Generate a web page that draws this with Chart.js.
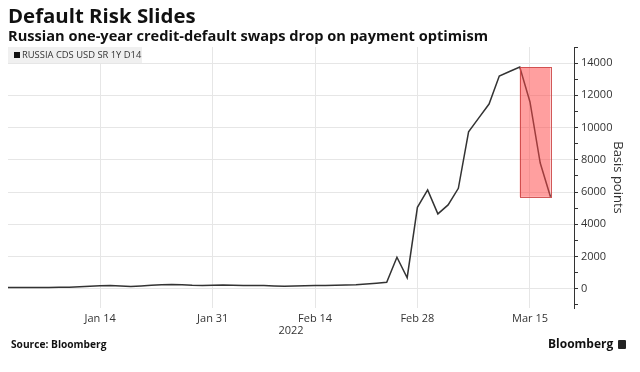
<!DOCTYPE html>
<html>
<head>
<meta charset="utf-8">
<script src="https://cdn.jsdelivr.net/npm/chart.js@4.4.1/dist/chart.umd.min.js"></script>
<style>
  html, body { margin: 0; padding: 0; background: #fff; }
  #wrap { position: relative; width: 640px; height: 372px; overflow: hidden; font-family: "Open Sans", "Noto Sans", sans-serif; }
  #c { position: absolute; left: 0; top: 0; }
  .title { position: absolute; left: 8px; top: 1px; font-size: 20.4px; font-weight: 700; color: #111; white-space: nowrap; }
  .sub { position: absolute; left: 8px; top: 25px; font-size: 14.6px; font-weight: 700; color: #111; white-space: nowrap; }
  .legend { position: absolute; left: 8px; top: 47px; width: 134px; height: 16px; background: #f0f0f0; font-size: 9.4px; color: #333; line-height: 16px; white-space: nowrap; }
  .legend .sq { display: inline-block; width: 6px; height: 6px; background: #111; margin: 0 2px 0 6px; vertical-align: 0px; }
  .source { position: absolute; left: 11px; top: 337px; font-size: 10.2px; font-weight: 700; color: #111; white-space: nowrap; }
  .logo { position: absolute; left: 548px; top: 335px; font-size: 12px; font-weight: 700; color: #111; white-space: nowrap; }
  .logo .ic { display: inline-block; width: 8px; height: 9px; background: #222; border-radius: 1px; margin-left: 5px; vertical-align: -1px; }
</style>
</head>
<body>
<div id="wrap">
  <canvas id="c" width="640" height="372"></canvas>
  <div class="title">Default Risk Slides</div>
  <div class="sub">Russian one-year credit-default swaps drop on payment optimism</div>
  <div class="legend"><span class="sq"></span>RUSSIA CDS USD SR 1Y D14</div>
  <div class="source">Source: Bloomberg</div>
  <div class="logo">Bloomberg<span class="ic"></span></div>
</div>
<script>
// Business days, Jan 3 – Mar 17, 2022
const dates = [
  'Jan 3','Jan 4','Jan 5','Jan 6','Jan 7',
  'Jan 10','Jan 11','Jan 12','Jan 13','Jan 14',
  'Jan 17','Jan 18','Jan 19','Jan 20','Jan 21',
  'Jan 24','Jan 25','Jan 26','Jan 27','Jan 28',
  'Jan 31','Feb 1','Feb 2','Feb 3','Feb 4',
  'Feb 7','Feb 8','Feb 9','Feb 10','Feb 11',
  'Feb 14','Feb 15','Feb 16','Feb 17','Feb 18',
  'Feb 21','Feb 22','Feb 23','Feb 24','Feb 25',
  'Feb 28','Mar 1','Mar 2','Mar 3','Mar 4',
  'Mar 7','Mar 8','Mar 9','Mar 10','Mar 11',
  'Mar 14','Mar 15','Mar 16','Mar 17'
];
const cdsValues = [
  80, 80, 80, 80, 80,
  85, 90, 120, 150, 180,
  190, 170, 140, 170, 210,
  250, 260, 240, 210, 200,
  210, 220, 210, 200, 200,
  190, 170, 150, 170, 180,
  190, 200, 210, 230, 240,
  290, 340, 400, 1950, 680,
  5050, 6130, 4640, 5200, 6230,
  9730, 10600, 11460, 13200, 13480,
  13750, 11590, 7800, 5700
];
const tickDates = ['Jan 14', 'Jan 31', 'Feb 14', 'Feb 28', 'Mar 15'];
const yTickValues = [0, 2000, 4000, 6000, 8000, 10000, 12000, 14000];
const highlightStart = 'Mar 14';
const highlightEnd = 'Mar 17';
const seriesName = 'RUSSIA CDS USD SR 1Y D14';

const points = cdsValues.map((v, i) => ({ x: i, y: v }));

const highlightPlugin = {
  id: 'highlightBox',
  afterDatasetsDraw(chart) {
    const xs = chart.scales.x, ys = chart.scales.y;
    const i0 = dates.indexOf(highlightStart), i1 = dates.indexOf(highlightEnd);
    const seg = cdsValues.slice(i0, i1 + 1);
    const x0 = xs.getPixelForValue(i0), x1 = xs.getPixelForValue(i1);
    const y0 = ys.getPixelForValue(Math.max(...seg)), y1 = ys.getPixelForValue(Math.min(...seg));
    const ctx = chart.ctx;
    ctx.save();
    ctx.fillStyle = 'rgba(255, 70, 70, 0.52)';
    ctx.fillRect(x0, y0, x1 - x0, y1 - y0);
    ctx.strokeStyle = 'rgba(205, 70, 70, 0.9)';
    ctx.lineWidth = 1;
    ctx.strokeRect(Math.round(x0) + 0.5, Math.round(y0) + 0.5, Math.round(x1 - x0), Math.round(y1 - y0));
    ctx.restore();
  }
};

new Chart(document.getElementById('c'), {
  type: 'line',
  data: {
    datasets: [{
      label: seriesName,
      data: points,
      borderColor: '#333333',
      borderWidth: 1.5,
      pointRadius: 0,
      tension: 0,
      fill: false
    }]
  },
  options: {
    responsive: false,
    animation: false,
    layout: { padding: { left: 8, top: 47, right: 10, bottom: 31 } },
    plugins: { legend: { display: false }, tooltip: { enabled: false } },
    scales: {
      x: {
        type: 'linear',
        min: 0,
        max: 55.3,
        afterFit(scale) { scale.height = 33; },
        afterBuildTicks(scale) {
          scale.ticks = tickDates.map(d => ({ value: dates.indexOf(d) }));
        },
        grid: { color: '#e6e6e6', lineWidth: 1, drawTicks: false },
        border: { display: false },
        ticks: {
          padding: 4,
          maxRotation: 0,
          autoSkip: false,
          color: '#333',
          font: { family: '"Open Sans", "Noto Sans", sans-serif', size: 11 },
          callback: (v) => dates[v]
        },
        title: {
          display: true,
          text: '2022',
          color: '#333',
          padding: { top: 0, bottom: 4 },
          font: { family: '"Open Sans", "Noto Sans", sans-serif', size: 11 }
        }
      },
      y: {
        position: 'right',
        min: -1200,
        max: 15000,
        afterFit(scale) { scale.width = 56; },
        afterBuildTicks(scale) {
          const t = [];
          for (let v = -1000; v <= 15000; v += 1000) t.push({ value: v });
          scale.ticks = t;
        },
        grid: {
          color: (ctx) => (ctx.tick && yTickValues.includes(ctx.tick.value)) ? '#e6e6e6' : 'rgba(0,0,0,0)',
          tickColor: '#333',
          tickLength: 4,
          drawOnChartArea: true
        },
        border: { display: true, color: '#333', width: 1 },
        ticks: {
          padding: 3,
          color: '#333',
          autoSkip: false,
          font: { family: '"Open Sans", "Noto Sans", sans-serif', size: 11 },
          callback: (v) => yTickValues.includes(v) ? String(v) : ''
        },
        title: {
          display: true,
          text: 'Basis points',
          color: '#333',
          padding: { top: 4, bottom: 4 },
          font: { family: '"Open Sans", "Noto Sans", sans-serif', size: 13 }
        }
      }
    }
  },
  plugins: [highlightPlugin]
});
</script>
</body>
</html>
